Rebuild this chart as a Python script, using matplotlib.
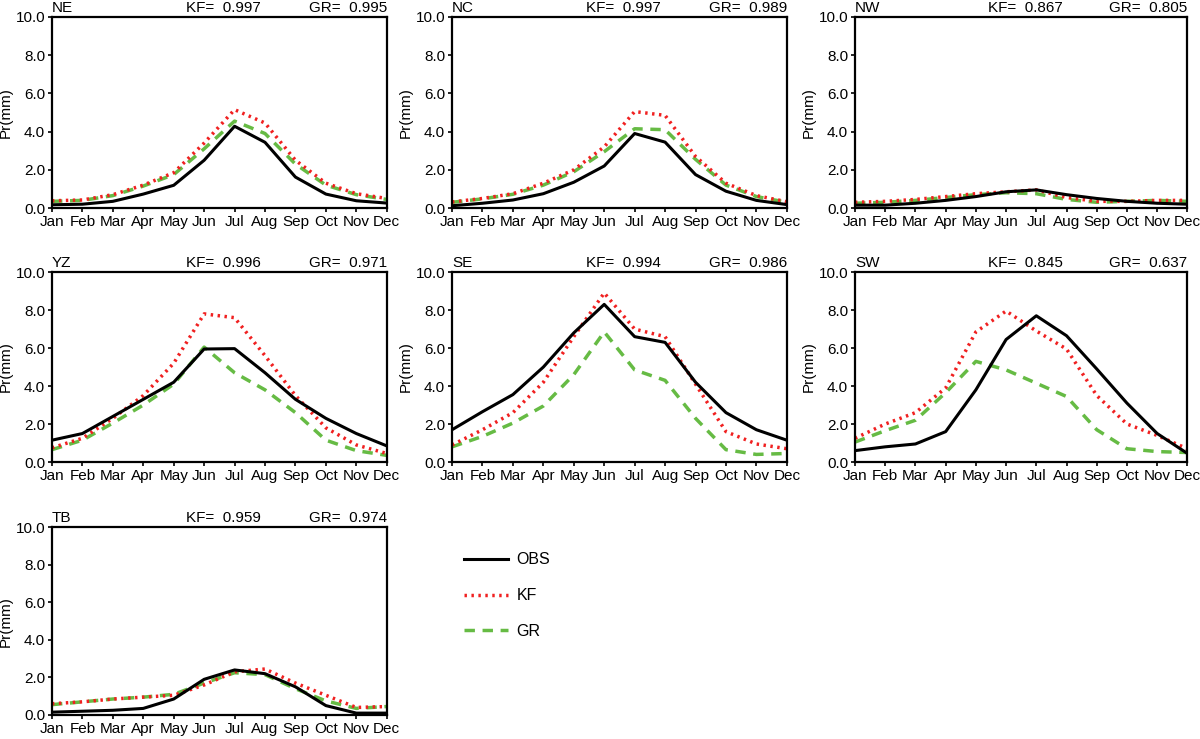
import matplotlib.pyplot as plt

plt.rcParams["font.family"] = ["Liberation Sans", "DejaVu Sans"]
plt.rcParams["font.size"] = 11

# ----------------------------
# Monthly mean precipitation by region
# ----------------------------

months = ["Jan", "Feb", "Mar", "Apr", "May", "Jun",
          "Jul", "Aug", "Sep", "Oct", "Nov", "Dec"]

regions = ["NE", "NC", "NW", "YZ", "SE", "SW", "TB"]
kf_corr = ["0.997", "0.997", "0.867", "0.996", "0.994", "0.845", "0.959"]
gr_corr = ["0.995", "0.989", "0.805", "0.971", "0.986", "0.637", "0.974"]

obs = {
    "NE": [0.17, 0.2, 0.35, 0.73, 1.19, 2.5, 4.28, 3.44, 1.62, 0.73, 0.38, 0.26],
    "NC": [0.12, 0.25, 0.42, 0.75, 1.35, 2.2, 3.9, 3.45, 1.75, 0.88, 0.4, 0.18],
    "NW": [0.15, 0.15, 0.25, 0.4, 0.6, 0.85, 0.95, 0.7, 0.5, 0.35, 0.25, 0.2],
    "YZ": [1.15, 1.5, 2.4, 3.3, 4.2, 5.95, 5.97, 4.7, 3.3, 2.3, 1.5, 0.85],
    "SE": [1.7, 2.65, 3.55, 5.0, 6.8, 8.3, 6.6, 6.3, 4.2, 2.6, 1.7, 1.15],
    "SW": [0.6, 0.8, 0.95, 1.6, 3.8, 6.45, 7.7, 6.65, 4.9, 3.1, 1.5, 0.45],
    "TB": [0.15, 0.2, 0.25, 0.35, 0.85, 1.9, 2.4, 2.2, 1.5, 0.5, 0.1, 0.1],
}

kf = {
    "NE": [0.38, 0.42, 0.7, 1.2, 1.85, 3.4, 5.15, 4.45, 2.5, 1.3, 0.75, 0.5],
    "NC": [0.32, 0.5, 0.75, 1.3, 2.0, 3.2, 5.05, 4.85, 2.7, 1.3, 0.65, 0.33],
    "NW": [0.3, 0.35, 0.45, 0.6, 0.75, 0.85, 0.95, 0.55, 0.35, 0.35, 0.4, 0.4],
    "YZ": [0.75, 1.25, 2.3, 3.5, 5.2, 7.8, 7.6, 5.6, 3.5, 1.8, 0.9, 0.45],
    "SE": [0.9, 1.7, 2.6, 4.2, 6.6, 8.9, 7.0, 6.6, 4.1, 1.6, 0.95, 0.7],
    "SW": [1.25, 2.0, 2.6, 3.9, 6.85, 7.95, 6.9, 5.95, 3.5, 2.0, 1.4, 0.7],
    "TB": [0.6, 0.7, 0.85, 0.95, 1.05, 1.6, 2.3, 2.45, 1.7, 1.05, 0.4, 0.45],
}

gr = {
    "NE": [0.35, 0.4, 0.65, 1.15, 1.75, 3.1, 4.55, 3.9, 2.3, 1.2, 0.7, 0.45],
    "NC": [0.3, 0.48, 0.72, 1.2, 1.9, 2.95, 4.15, 4.1, 2.55, 1.2, 0.6, 0.3],
    "NW": [0.25, 0.3, 0.4, 0.55, 0.7, 0.8, 0.75, 0.45, 0.3, 0.35, 0.4, 0.35],
    "YZ": [0.65, 1.15, 2.05, 3.0, 4.1, 6.05, 4.7, 3.8, 2.6, 1.15, 0.6, 0.35],
    "SE": [0.8, 1.35, 2.05, 2.95, 4.6, 6.85, 4.85, 4.3, 2.3, 0.65, 0.4, 0.45],
    "SW": [1.05, 1.65, 2.2, 3.65, 5.3, 4.85, 4.15, 3.45, 1.7, 0.7, 0.55, 0.5],
    "TB": [0.55, 0.7, 0.85, 0.95, 1.1, 1.7, 2.25, 2.15, 1.4, 0.75, 0.35, 0.45],
}

yticks = [0, 2, 4, 6, 8, 10]

# ----------------------------
# Panel layout (figure fractions)
# ----------------------------

col_left = [0.0433, 0.3767, 0.7125]
col_width = [0.279, 0.279, 0.277]
row_bottom = [0.7185, 0.3748, 0.0325]
row_height = [0.2585, 0.257, 0.254]

fig = plt.figure(figsize=(12, 7.39), dpi=100)

x = list(range(len(months)))
lines = None

for i, reg in enumerate(regions):
    r, c = divmod(i, 3)
    ax = fig.add_axes([col_left[c], row_bottom[r], col_width[c], row_height[r]])

    l1, = ax.plot(x, obs[reg], color="black", lw=2.2, label="OBS", zorder=3)
    l2, = ax.plot(x, kf[reg], color="#f02020", lw=2.5, ls=(0, (0.7, 1.3)),
                  label="KF", zorder=2)
    l3, = ax.plot(x, gr[reg], color="#66bb44", lw=2.5, ls=(0, (3, 2.2)),
                  label="GR", zorder=1)
    lines = [l1, l2, l3]

    ax.set_xlim(0, 11)
    ax.set_ylim(0, 10)
    ax.set_xticks(x)
    ax.set_xticklabels(months)
    ax.set_yticks(yticks)
    ax.set_yticklabels([f"{v:.1f}" for v in yticks])
    ax.set_ylabel("Pr(mm)", labelpad=2)
    ax.tick_params(direction="out", length=3, width=1.2, pad=2, labelsize=11)
    for s in ax.spines.values():
        s.set_linewidth(1.6)

    ax.text(0.0, 1.01, reg, transform=ax.transAxes, ha="left", va="bottom")
    ax.text(0.40, 1.01, "KF=  " + kf_corr[i], transform=ax.transAxes,
            ha="left", va="bottom")
    ax.text(1.0, 1.01, "GR=  " + gr_corr[i], transform=ax.transAxes,
            ha="right", va="bottom")

fig.legend(lines, ["OBS", "KF", "GR"], loc="upper left",
           bbox_to_anchor=(0.375, 0.272), frameon=False, fontsize=11.5,
           handlelength=2.7, handletextpad=0.55, labelspacing=1.3)

plt.savefig("out.png", dpi=100)
